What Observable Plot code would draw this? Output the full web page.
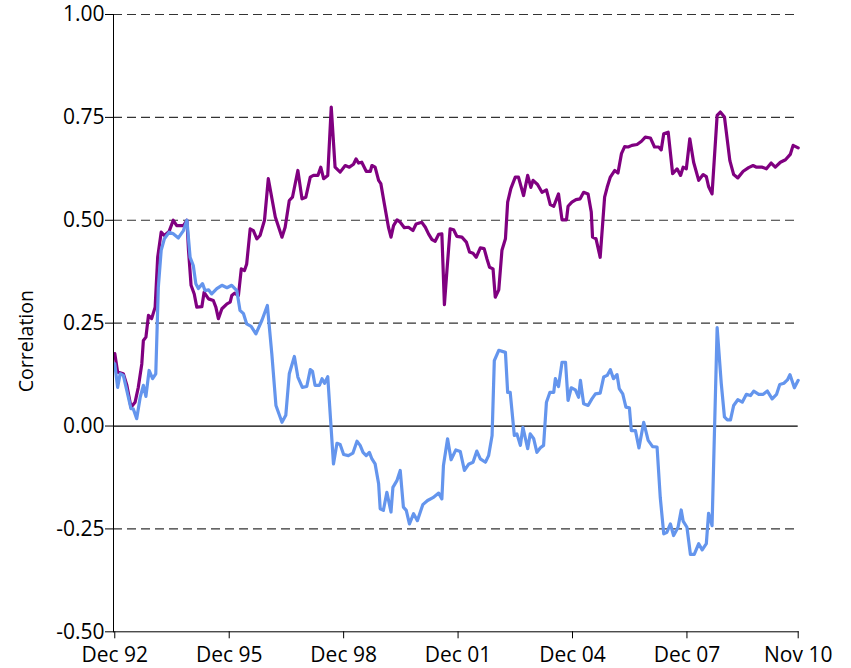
<!DOCTYPE html>
<html>
<head>
<meta charset="utf-8">
<script src="https://cdn.jsdelivr.net/npm/d3@7"></script>
<script src="https://cdn.jsdelivr.net/npm/@observablehq/plot@0.6"></script>
<style>
  html, body { margin: 0; padding: 0; background: #fff; }
</style>
</head>
<body>
<div id="chart"></div>
<script>
// Months since Dec 1992 (x) and correlation (y)
const purpleMonth = [0,0.9,2.7,3.8,5.1,6.4,7.4,8.5,9.0,9.8,10.6,11.6,12.7,13.5,14.6,15.6,17.1,18.4,19.5,21.6,22.7,23.2,24.0,25.0,25.8,27.4,28.1,29.5,31.0,31.8,32.6,33.7,35.3,36.3,36.8,37.7,38.9,39.8,40.8,41.5,42.6,43.6,44.7,45.7,47.1,48.3,50.5,52.6,53.6,54.9,55.9,57.6,58.9,60.1,61.5,62.5,63.9,64.8,65.7,67.0,68.1,69.3,70.9,72.5,73.8,75.1,75.9,76.7,77.7,79.1,80.4,80.9,81.9,83.0,83.7,84.8,86.1,86.9,87.7,88.8,89.8,91.1,92.4,93.8,94.8,96.6,97.7,98.7,99.8,100.8,101.9,102.9,103.7,104.5,105.5,106.6,107.6,109.2,110.6,111.6,112.7,113.7,115.0,116.2,117.1,117.9,119.0,119.7,120.8,121.8,122.9,123.6,124.6,126.0,127.0,128.6,129.9,130.9,131.6,133.0,134.4,135.8,137.0,138.1,139.6,140.7,142.1,142.6,143.8,145.1,146.4,147.5,148.9,149.9,150.3,151.4,152.7,154.1,154.9,155.9,157.3,158.3,159.4,160.4,161.5,162.7,164.3,165.7,166.9,168.5,169.8,171.1,171.9,172.7,174.1,175.5,176.9,178.0,178.8,179.8,180.9,182.1,183.7,185.1,186.1,186.8,187.9,189.5,190.5,191.8,193.5,194.7,196.0,197.7,199.4,200.8,201.9,203.7,205.0,206.5,207.8,209.4,211.0,212.5,213.4,215];
const purpleValue = [0.176,0.131,0.127,0.099,0.046,0.058,0.094,0.151,0.208,0.216,0.269,0.261,0.289,0.410,0.471,0.463,0.473,0.500,0.487,0.487,0.500,0.427,0.342,0.321,0.289,0.290,0.325,0.309,0.305,0.289,0.261,0.285,0.297,0.301,0.317,0.323,0.317,0.382,0.378,0.394,0.479,0.475,0.455,0.463,0.500,0.601,0.508,0.459,0.483,0.548,0.556,0.621,0.552,0.556,0.605,0.609,0.609,0.629,0.601,0.609,0.775,0.629,0.617,0.633,0.629,0.636,0.649,0.639,0.641,0.619,0.619,0.633,0.629,0.597,0.589,0.540,0.483,0.459,0.487,0.501,0.495,0.482,0.483,0.475,0.491,0.495,0.483,0.467,0.453,0.449,0.466,0.467,0.295,0.378,0.479,0.477,0.461,0.459,0.447,0.423,0.420,0.410,0.433,0.431,0.406,0.386,0.382,0.313,0.331,0.427,0.455,0.544,0.577,0.605,0.605,0.560,0.609,0.580,0.597,0.587,0.568,0.574,0.538,0.534,0.564,0.501,0.501,0.534,0.544,0.550,0.552,0.568,0.564,0.520,0.459,0.455,0.410,0.556,0.580,0.605,0.621,0.615,0.662,0.679,0.678,0.682,0.684,0.692,0.702,0.700,0.678,0.678,0.671,0.710,0.714,0.613,0.625,0.609,0.629,0.625,0.698,0.641,0.597,0.611,0.606,0.582,0.564,0.755,0.763,0.751,0.645,0.611,0.603,0.619,0.628,0.633,0.629,0.629,0.625,0.639,0.629,0.641,0.647,0.660,0.682,0.676];

const blueMonth = [0,0.9,1.7,2.7,3.8,5.1,5.8,6.9,8.0,9.0,9.8,10.8,11.9,12.9,13.7,14.6,15.6,17.1,18.4,20.0,21.6,22.7,23.7,24.7,25.5,26.3,27.6,28.4,29.5,30.5,32.1,33.7,35.3,36.8,38.4,39.4,40.5,41.5,42.9,44.4,46.3,48.0,49.4,50.7,52.6,53.8,54.9,56.5,57.6,59.0,60.4,61.5,62.2,63.0,64.4,65.2,66.0,67.0,68.8,69.9,70.9,72.0,73.5,74.9,76.2,77.2,78.1,79.1,80.1,80.9,81.9,83.0,83.5,84.5,85.6,86.9,87.5,88.8,89.8,90.8,91.7,92.7,94.0,95.2,96.9,98.4,100.1,101.9,102.9,103.4,104.7,105.8,107.3,108.7,110.0,111.3,112.7,113.9,115.0,116.6,117.6,118.7,119.4,120.8,122.9,123.6,124.4,125.7,126.5,127.6,128.4,129.9,130.7,131.8,132.8,133.9,134.9,135.8,136.9,138.1,138.6,139.6,140.7,141.8,142.6,143.6,144.9,145.9,146.5,147.5,148.9,150.1,151.2,152.7,153.8,154.9,155.9,156.9,158.0,158.7,159.8,160.8,161.9,162.5,163.8,164.9,166.4,167.8,169.2,170.6,171.6,172.7,173.7,174.8,175.8,177.2,178.2,178.8,180.0,181.1,182.3,183.7,184.8,186.1,186.8,187.9,189.5,190.8,191.8,192.7,193.7,194.7,196.0,197.4,198.7,200.0,201.0,202.6,204.0,205.3,206.8,208.2,209.2,210.5,211.6,212.4,213.8,215];
const blueValue = [0.151,0.094,0.127,0.123,0.086,0.042,0.042,0.018,0.070,0.099,0.072,0.135,0.115,0.127,0.337,0.427,0.455,0.471,0.467,0.457,0.475,0.500,0.410,0.390,0.346,0.334,0.346,0.329,0.331,0.321,0.334,0.342,0.336,0.342,0.329,0.281,0.273,0.248,0.242,0.224,0.257,0.293,0.176,0.050,0.009,0.026,0.127,0.169,0.119,0.094,0.096,0.137,0.133,0.099,0.099,0.115,0.104,0.120,-0.092,-0.042,-0.045,-0.069,-0.072,-0.066,-0.037,-0.047,-0.064,-0.072,-0.064,-0.080,-0.092,-0.140,-0.201,-0.205,-0.161,-0.209,-0.149,-0.132,-0.108,-0.197,-0.205,-0.238,-0.213,-0.230,-0.191,-0.181,-0.174,-0.163,-0.177,-0.096,-0.031,-0.082,-0.058,-0.062,-0.108,-0.093,-0.088,-0.061,-0.080,-0.088,-0.072,-0.023,0.159,0.184,0.179,0.082,0.082,-0.023,-0.019,-0.047,-0.003,-0.055,-0.019,-0.031,-0.064,-0.053,-0.047,0.058,0.082,0.082,0.115,0.096,0.155,0.155,0.062,0.093,0.088,0.070,0.111,0.054,0.050,0.066,0.078,0.080,0.119,0.123,0.137,0.115,0.125,0.091,0.078,0.046,0.044,-0.011,-0.011,-0.053,0.009,-0.035,-0.050,-0.051,-0.173,-0.262,-0.258,-0.238,-0.266,-0.246,-0.204,-0.231,-0.246,-0.312,-0.312,-0.286,-0.301,-0.286,-0.212,-0.242,0.239,0.103,0.022,0.015,0.015,0.050,0.064,0.058,0.077,0.074,0.085,0.077,0.077,0.085,0.066,0.077,0.101,0.104,0.112,0.125,0.093,0.111];

const tickMonths = [0, 36, 72, 108, 144, 180, 215];
const tickLabels = ["Dec 92", "Dec 95", "Dec 98", "Dec 01", "Dec 04", "Dec 07", "Nov 10"];
const yTicks = [-0.5, -0.25, 0, 0.25, 0.5, 0.75, 1];
const dashedGrid = [-0.25, 0.25, 0.5, 0.75, 1];

const purple = purpleMonth.map((m, i) => ({m, v: purpleValue[i]}));
const blue = blueMonth.map((m, i) => ({m, v: blueValue[i]}));
const labelMap = new Map(tickMonths.map((m, i) => [m, tickLabels[i]]));

const chart = Plot.plot({
  width: 851,
  height: 668,
  marginLeft: 113,
  marginRight: 53.3,
  marginTop: 14,
  marginBottom: 36.7,
  style: {fontFamily: "'Open Sans', sans-serif", fontSize: "21px", color: "#000", background: "#fff"},
  x: {domain: [-0.4, 215]},
  y: {domain: [-0.5, 1]},
  marks: [
    Plot.ruleY(dashedGrid, {stroke: "#333", strokeWidth: 1.2, strokeDasharray: "9,5"}),
    Plot.ruleY([0], {stroke: "#000", strokeWidth: 1.2}),
    Plot.lineY(purple, {x: "m", y: "v", stroke: "#800080", strokeWidth: 3.2}),
    Plot.lineY(blue, {x: "m", y: "v", stroke: "#6495ED", strokeWidth: 3.2}),
    Plot.frame({anchor: "left", stroke: "#000"}),
    Plot.frame({anchor: "bottom", stroke: "#000"}),
    Plot.axisY({ticks: yTicks, tickSize: 8, tickPadding: 1, tickFormat: d => d.toFixed(2), label: null, fontSize: 21}),
    Plot.axisX({ticks: tickMonths, tickSize: 7, tickPadding: 8, tickFormat: d => labelMap.get(d), label: null, fontSize: 21}),
    Plot.text(["Correlation"], {frameAnchor: "left", textAnchor: "middle", dx: -87, dy: 18, rotate: -90, fontSize: 19.5})
  ]
});
document.getElementById("chart").appendChild(chart);
</script>
</body>
</html>
